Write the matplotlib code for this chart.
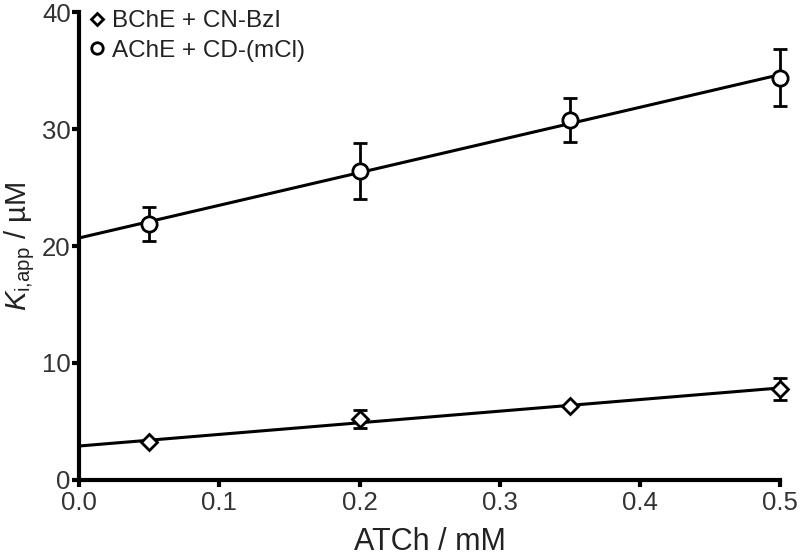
import numpy as np
import matplotlib
matplotlib.use("Agg")
import matplotlib.pyplot as plt

plt.rcParams['font.family'] = ['Liberation Sans', 'DejaVu Sans']
plt.rcParams['mathtext.fontset'] = 'custom'
plt.rcParams['mathtext.rm'] = 'Liberation Sans'
plt.rcParams['mathtext.it'] = 'Liberation Sans:italic'

# data
atch = [0.05, 0.2, 0.35, 0.5]
bche_ki = [3.2, 5.2, 6.3, 7.8]
bche_err = [0.0, 0.75, 0.0, 0.95]
ache_ki = [21.9, 26.4, 30.8, 34.4]
ache_err = [1.45, 2.4, 1.9, 2.45]

fig = plt.figure(figsize=(8, 5.56), dpi=100)
ax = fig.add_axes([0.099, 0.137, 0.876, 0.841])

xfit = np.array([0.0, 0.5])
for y, err, marker, label in [(bche_ki, bche_err, 'D', 'BChE + CN-BzI'),
                              (ache_ki, ache_err, 'o', 'AChE + CD-(mCl)')]:
    slope, icpt = np.polyfit(atch, y, 1)
    ax.plot(xfit, icpt + slope * xfit, color='black', lw=2.2, clip_on=False)
    ax.errorbar(atch, y, yerr=err, fmt='none', ecolor='black', elinewidth=2,
                capsize=5, capthick=2, clip_on=False)
    ms = 8 if marker == 'D' else 11
    ax.plot(atch, y, linestyle='none', marker=marker, ms=ms, mfc='white', mec='black',
            mew=2, clip_on=False, label=label, zorder=5)

ax.set_xlim(0, 0.5)
ax.set_ylim(0, 40)
ax.set_xticks([0.0, 0.1, 0.2, 0.3, 0.4, 0.5])
ax.set_yticks([0, 10, 20, 30, 40])
ax.xaxis.set_major_formatter(matplotlib.ticker.FormatStrFormatter('%.1f'))
for s in ['top', 'right']:
    ax.spines[s].set_visible(False)
for s in ['left', 'bottom']:
    ax.spines[s].set_linewidth(3)
ax.tick_params(width=3, length=5, labelsize=18.5, colors='black', labelcolor='#333333', pad=1)
ax.tick_params(axis='x', pad=3)
ax.set_xlabel('ATCh / mM', fontsize=22, color='#222222')
ax.set_ylabel(r'$K_{\mathrm{i{,}app}}$ / µM', fontsize=21, color='#222222')
ax.xaxis.set_label_coords(0.5, -0.1, transform=ax.transAxes)
ax.yaxis.set_label_coords(-0.06, 0.5, transform=ax.transAxes)

leg = ax.legend(loc='upper left', frameon=False, fontsize=17.5, handletextpad=0.2,
                handlelength=0.8, borderaxespad=0.0, bbox_to_anchor=(-0.002, 1.025),
                labelspacing=0.3, markerscale=0.75)
for t in leg.get_texts():
    t.set_color('#222222')

fig.savefig('out.png', dpi=100)
